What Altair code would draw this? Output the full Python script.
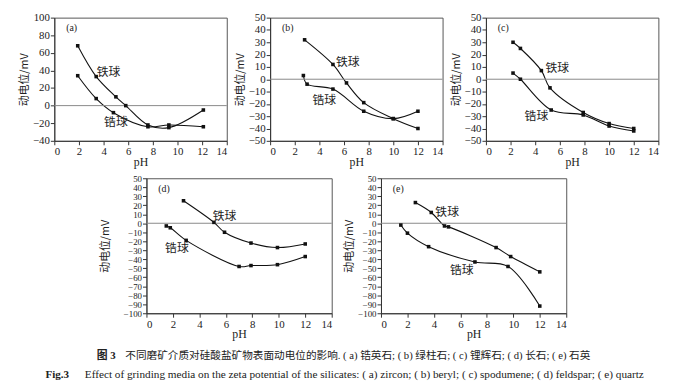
import altair as alt
import pandas as pd

SERIF = "Liberation Serif, Noto Sans CJK SC"
CJK = "Noto Sans CJK SC"

IRON = "铁球"
ZR = "锆球"
Y_TITLE = "动电位/mV"
X_TITLE = "pH"
X_TICKS = [0, 2, 4, 6, 8, 10, 12, 14]

# (a) zircon
A_IRON_PH = [1.9, 3.4, 5.0, 5.8, 7.6, 9.3, 12.1]
A_IRON_ZP = [68, 33, 10, 0, -22, -25, -5]
A_ZR_PH = [1.9, 3.4, 4.8, 7.6, 9.3, 12.1]
A_ZR_ZP = [34, 8, -8, -24, -22, -24]
A_LABELS = [(4.4, 38, IRON), (5.0, -19, ZR)]
A_Y = [-40, 100, 20]

# (b) beryl
B_IRON_PH = [2.8, 5.1, 6.2, 7.6, 10.0, 12.0]
B_IRON_ZP = [32, 12, -3, -19, -32, -40]
B_ZR_PH = [2.7, 3.0, 5.1, 7.6, 10.0, 12.0]
B_ZR_ZP = [3, -4, -8, -26, -32, -26]
B_LABELS = [(6.3, 14, IRON), (4.4, -17, ZR)]
B_Y = [-50, 50, 10]

# (c) spodumene
C_IRON_PH = [2.2, 2.8, 4.5, 5.2, 7.9, 10.0, 12.0]
C_IRON_ZP = [30, 25, 7, -7, -27, -36, -40]
C_ZR_PH = [2.2, 2.8, 5.3, 7.9, 10.0, 12.0]
C_ZR_ZP = [5, 0, -25, -29, -38, -42]
C_LABELS = [(5.8, 9, IRON), (4.1, -30, ZR)]
C_Y = [-50, 50, 10]

# (d) feldspar
D_IRON_PH = [2.8, 5.1, 5.9, 7.9, 9.9, 12.0]
D_IRON_ZP = [25, 1, -10, -22, -27, -23]
D_ZR_PH = [1.5, 1.8, 3.0, 7.0, 7.9, 9.9, 12.0]
D_ZR_ZP = [-3, -5, -19, -48, -47, -46, -37]
D_LABELS = [(5.9, 8, IRON), (2.3, -28, ZR)]
D_Y = [-100, 50, 10]

# (e) quartz
E_IRON_PH = [2.6, 3.8, 4.8, 5.1, 8.7, 9.8, 12.0]
E_IRON_ZP = [23, 12, -3, -4, -27, -37, -54]
E_ZR_PH = [1.5, 2.0, 3.6, 7.1, 9.6, 12.0]
E_ZR_ZP = [-2, -11, -26, -43, -48, -92]
E_LABELS = [(5.0, 13, IRON), (6.1, -52, ZR)]
E_Y = [-100, 50, 10]

CAPTION_CN_HEAD = "图 3"
CAPTION_CN = "不同磨矿介质对硅酸盐矿物表面动电位的影响. ( a) 锆英石; ( b) 绿柱石; ( c) 锂辉石; ( d) 长石; ( e) 石英"
CAPTION_EN_HEAD = "Fig.3"
CAPTION_EN = "Effect of grinding media on the zeta potential of the silicates:  ( a)  zircon;  ( b)  beryl;  ( c)  spodumene;  ( d)  feldspar;  ( e)  quartz"


def panel(letter, iph, izp, zph, zzp, labels, ycfg, w, h, min_extent=0, ylab=11):
    df = pd.DataFrame({
        "pH": iph + zph,
        "zp": izp + zzp,
        "s": [IRON] * len(iph) + [ZR] * len(zph),
    })
    lo, hi, step = ycfg
    yvals = list(range(lo, hi + 1, step))
    x = alt.X("pH:Q", scale=alt.Scale(domain=[0, 14], nice=False, zero=False),
              axis=alt.Axis(values=X_TICKS, title=X_TITLE, format="d", labelOverlap=False,
                            titlePadding=0))
    yaxis = dict(values=yvals, title=Y_TITLE, format="d", labelOverlap=False, titleFont=CJK,
                 labelFontSize=ylab)
    if min_extent:
        yaxis["minExtent"] = min_extent
    y = alt.Y("zp:Q", scale=alt.Scale(domain=[lo, hi], nice=False, zero=False),
              axis=alt.Axis(**yaxis))
    base = alt.Chart(df)
    lines = base.mark_line(interpolate="catmull-rom", color="#111111", strokeWidth=1.1).encode(
        x=x, y=y, detail="s:N")
    pts = base.mark_square(size=13, color="#111111", opacity=1).encode(x=x, y=y)
    zero = alt.Chart(pd.DataFrame({"zp": [0]})).mark_rule(color="#888888", strokeWidth=1).encode(y=y)
    ldf = pd.DataFrame(labels, columns=["pH", "zp", "t"])
    txt = alt.Chart(ldf).mark_text(font=CJK, fontSize=12, color="#222222").encode(
        x=x, y=y, text="t:N")
    let = alt.Chart(pd.DataFrame({"l": [letter]})).mark_text(
        font=SERIF, fontSize=10, align="left", baseline="middle", color="#222222").encode(
        x=alt.value(12), y=alt.value(11), text="l:N")
    return alt.layer(lines, zero, pts, txt, let).properties(width=w, height=h)


pa = panel("(a)", A_IRON_PH, A_IRON_ZP, A_ZR_PH, A_ZR_ZP, A_LABELS, A_Y, 175, 125)
pb = panel("(b)", B_IRON_PH, B_IRON_ZP, B_ZR_PH, B_ZR_ZP, B_LABELS, B_Y, 175, 125)
pc = panel("(c)", C_IRON_PH, C_IRON_ZP, C_ZR_PH, C_ZR_ZP, C_LABELS, C_Y, 175, 125)
pd_ = panel("(d)", D_IRON_PH, D_IRON_ZP, D_ZR_PH, D_ZR_ZP, D_LABELS, D_Y, 188, 137,
            min_extent=33, ylab=9)
pe = panel("(e)", E_IRON_PH, E_IRON_ZP, E_ZR_PH, E_ZR_ZP, E_LABELS, E_Y, 188, 137, ylab=9)

cap_df = pd.DataFrame({
    "t": [CAPTION_CN_HEAD, CAPTION_CN, CAPTION_EN_HEAD, CAPTION_EN],
    "x": [66, 95, 14, 54],
    "y": [10, 10, 30, 30],
})


def cap_text(key, bold, size):
    kw = dict(font=SERIF, fontSize=size, align="left", color="#222222")
    if bold:
        kw["fontWeight"] = "bold"
    return alt.Chart(cap_df).transform_filter(alt.datum.t == key).mark_text(**kw).encode(
        x=alt.X("x:Q", scale=None), y=alt.Y("y:Q", scale=None), text="t:N")


caption = alt.layer(
    cap_text(CAPTION_CN_HEAD, True, 11),
    cap_text(CAPTION_CN, False, 10.8),
    cap_text(CAPTION_EN_HEAD, True, 11.2),
    cap_text(CAPTION_EN, False, 11.4),
).properties(width=660, height=32, view=alt.ViewBackground(strokeOpacity=0, strokeWidth=0))

top = alt.hconcat(pa, pb, pc, spacing=6)
bottom = alt.hconcat(pd_, pe, spacing=10)

chart = alt.vconcat(top, bottom, caption, spacing=5, center=True).properties(
    padding={"left": 10, "top": 0, "right": 2, "bottom": 0}
).configure_view(stroke="#555555", strokeWidth=1).configure_axis(
    labelFont=SERIF, titleFont=SERIF, labelFontSize=11, titleFontSize=12,
    titleFontWeight="normal", labelColor="#222222", titleColor="#222222",
    domainColor="#333333", tickColor="#333333", tickSize=4, grid=False,
    labelPadding=1, titlePadding=3,
).configure_axisY(titleFontSize=11)

chart.save("out.html", embed_options={"renderer": "svg", "actions": False})
